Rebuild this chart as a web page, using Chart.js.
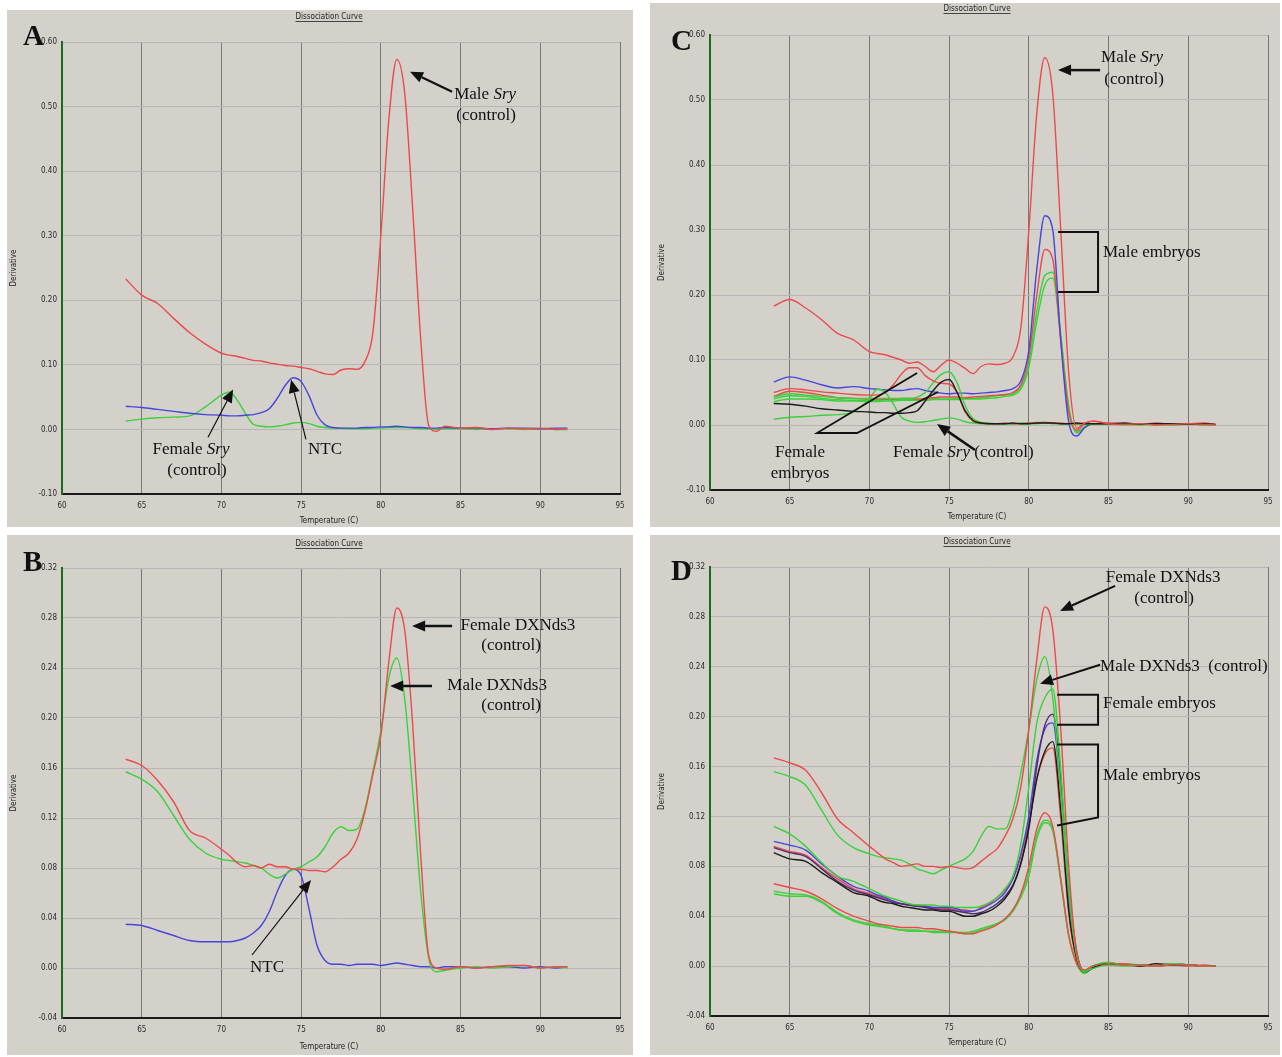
<!DOCTYPE html>
<html>
<head>
<meta charset="utf-8">
<script src="https://cdn.jsdelivr.net/npm/chart.js@4.4.1/dist/chart.umd.min.js"></script>
<style>
  body { margin: 0; background: #fff; width: 1282px; height: 1057px; position: relative; overflow: hidden; }
  .panel { position: absolute; background: #d4d1cb; }
  .panel canvas { position: absolute; left: 0; top: 0; }
</style>
</head>
<body>
<div class="panel" style="left:7px;top:10px;width:626px;height:517px"><canvas id="chartA" width="626" height="517"></canvas></div>
<div class="panel" style="left:650px;top:3px;width:630px;height:524px"><canvas id="chartC" width="630" height="524"></canvas></div>
<div class="panel" style="left:7px;top:535px;width:626px;height:520px"><canvas id="chartB" width="626" height="520"></canvas></div>
<div class="panel" style="left:650px;top:535px;width:630px;height:520px"><canvas id="chartD" width="630" height="520"></canvas></div>

<script>
// temperature (C) shared by every trace
const temps = [64, 65, 66, 67, 68, 69, 70,
  70.5, 71, 71.5, 72, 72.5, 73, 73.5, 74, 74.5, 75, 75.5, 76, 76.5, 77, 77.5, 78, 78.5, 79, 79.5, 80, 80.5, 81, 81.5, 82, 82.5, 83, 83.5, 84,
  85, 86, 87, 88, 89, 90, 91, 91.7];

const xTicks = [60, 65, 70, 75, 80, 85, 90, 95];
const yTicksSry = [-0.1, 0, 0.1, 0.2, 0.3, 0.4, 0.5, 0.6];
const yTicksDX = [-0.04, 0, 0.04, 0.08, 0.12, 0.16, 0.2, 0.24, 0.28, 0.32];

// A: Sry assay, controls
const aMaleSry = [.233, .208, .195, .172, .150, .132, .118,
  .115, .113, .110, .107, .106, .103, .101, .099, .098, .096, .094, .090, .086, .085, .092, .094, .093, .105, .150, .300, .480, .573, .520, .340, .140, .006, -.003, .005,
  .002, .003, .000, .002, .001, .002, .000, .001];
const aNTC = [.036, .034, .031, .028, .025, .023, .022,
  .021, .021, .022, .023, .026, .032, .048, .068, .080, .074, .052, .022, .007, .003, .002, .002, .002, .003, .003, .004, .004, .005, .004, .003, .003, .002, .002, .003,
  .002, .002, .001, .002, .002, .001, .002, .002];
const aFemaleSry = [.013, .016, .018, .019, .021, .035, .053,
  .058, .045, .025, .008, .005, .004, .005, .007, .010, .011, .009, .005, .003, .002, .002, .001, .001, .001, .002, .002, .003, .003, .003, .002, .001, .001, .000, .001,
  .001, .000, .001, .001, .000, .001, .000, .000];

// B: DXNds3 assay, controls
const bFemaleDX = [.167, .162, .150, .133, .110, .104, .095,
  .090, .084, .081, .082, .080, .083, .081, .081, .079, .079, .078, .078, .077, .081, .087, .092, .103, .125, .155, .186, .245, .288, .270, .194, .090, .010, .000, -.001,
  .001, .000, .001, .002, .002, .000, .001, .001];
const bMaleDX = [.157, .151, .141, .122, .103, .092, .087,
  .086, .085, .084, .082, .080, .075, .072, .075, .079, .081, .085, .089, .097, .108, .113, .110, .111, .127, .157, .190, .232, .248, .215, .141, .061, .008, -.003, -.002,
  .000, .001, .000, .001, .002, .000, .001, .000];
const bNTC = [.035, .034, .030, .026, .022, .021, .021,
  .021, .022, .024, .028, .034, .045, .061, .074, .079, .074, .047, .018, .006, .003, .003, .002, .003, .003, .003, .002, .003, .004, .003, .002, .001, .001, .000, .001,
  .001, .000, .001, .001, .000, .001, .000, .001];

// C: Sry assay, embryos
const cMaleSry = [.183, .193, .180, .162, .141, .131, .113,
  .110, .108, .104, .100, .095, .097, .090, .082, .092, .100, .095, .087, .079, .090, .094, .093, .095, .105, .150, .300, .480, .565, .510, .300, .080, -.005, .003, .006,
  .002, .001, .002, .000, .001, .002, .001, .000];
const cMaleBlue = [.066, .074, .069, .062, .057, .059, .056,
  .055, .054, .053, .053, .055, .056, .053, .051, .049, .048, .049, .049, .048, .049, .050, .051, .053, .056, .068, .115, .240, .322, .300, .130, .005, -.017, -.004, .002,
  .002, .001, .001, .002, .001, .001, .001, .001];
const cMaleRed = [.044, .052, .050, .046, .042, .041, .040,
  .040, .040, .040, .041, .041, .040, .041, .042, .043, .043, .043, .042, .043, .044, .045, .046, .047, .050, .062, .105, .200, .270, .255, .130, .020, -.008, .002, .006,
  .002, .001, .001, .002, .000, .002, .000, .001];
const cMaleGreen = [.040, .045, .044, .041, .039, .038, .038,
  .038, .039, .039, .039, .039, .039, .040, .040, .040, .040, .041, .041, .041, .042, .043, .045, .046, .048, .058, .095, .175, .230, .235, .140, .030, -.010, -.004, .002,
  .002, .001, .000, .002, .001, .001, .001, .001];
const cMaleGreen2 = [.036, .040, .040, .039, .037, .037, .036,
  .036, .037, .037, .038, .038, .038, .038, .039, .039, .039, .039, .040, .040, .040, .041, .042, .044, .046, .055, .088, .160, .215, .226, .135, .025, -.012, -.003, .001,
  .001, .002, .001, .000, .001, .002, .001, .000];
const cFemRed = [.050, .056, .054, .051, .049, .047, .046,
  .046, .050, .062, .078, .088, .088, .076, .068, .064, .063, .050, .020, .006, .003, .002, .002, .003, .002, .002, .003, .003, .004, .003, .003, .002, .002, .003, .002,
  .003, .002, .001, .003, .001, .002, .003, .001];
const cFemBlack = [.033, .032, .029, .025, .023, .021, .020,
  .019, .019, .018, .018, .019, .022, .037, .053, .066, .070, .050, .022, .007, .003, .002, .002, .002, .003, .002, .002, .003, .003, .003, .002, .002, .003, .002, .002,
  .002, .003, .001, .002, .002, .001, .002, .001];
const cFemGreen = [.043, .048, .046, .044, .042, .041, .041,
  .041, .041, .041, .041, .041, .043, .050, .065, .078, .082, .065, .030, .010, .004, .003, .002, .002, .002, .003, .003, .004, .004, .003, .002, .002, .001, .002, .002,
  .002, .001, .002, .001, .001, .002, .001, .001];
const cFemSry = [.009, .012, .013, .015, .016, .020, .040,
  .055, .050, .032, .012, .006, .004, .005, .007, .009, .011, .009, .005, .003, .002, .002, .001, .001, .002, .002, .002, .002, .003, .002, .002, .001, .001, .001, .001,
  .001, .000, .001, .001, .000, .001, .000, .000];

// D: DXNds3 assay, embryos
const dFemaleDX = [.167, .163, .157, .139, .118, .107, .096,
  .091, .086, .083, .080, .081, .082, .080, .080, .079, .080, .079, .078, .079, .084, .089, .094, .104, .118, .144, .190, .246, .288, .270, .190, .080, .010, -.003, .000,
  .002, .001, .001, .000, .001, .001, .000, .000];
const dMaleDX = [.156, .152, .145, .125, .105, .095, .090,
  .088, .087, .086, .085, .082, .078, .076, .074, .077, .080, .083, .086, .092, .104, .112, .110, .110, .125, .155, .190, .230, .248, .215, .140, .060, .008, -.004, -.002,
  .001, .000, .001, .000, .002, .001, .000, .000];
const dFemGreen = [.112, .106, .096, .083, .072, .068, .062,
  .059, .056, .054, .052, .050, .049, .049, .049, .048, .048, .047, .047, .047, .048, .051, .055, .062, .072, .098, .144, .195, .215, .222, .158, .064, .011, -.005, .000,
  .003, .001, .001, .000, .002, .001, .000, .000];
const dFemPurple = [.095, .091, .088, .078, .068, .061, .057,
  .055, .053, .051, .050, .049, .048, .047, .046, .045, .045, .044, .043, .042, .043, .046, .050, .056, .065, .083, .110, .160, .193, .202, .150, .065, .012, -.005, -.002,
  .002, .001, .001, .000, .002, .001, .000, .000];
const dMaleBlack = [.091, .086, .084, .075, .067, .059, .056,
  .053, .051, .050, .048, .047, .046, .045, .045, .044, .044, .042, .040, .040, .042, .044, .048, .054, .064, .082, .112, .150, .172, .180, .125, .045, .006, -.005, -.001,
  .002, .001, .000, .002, .001, .001, .000, .000];
const dMaleBlue = [.100, .097, .093, .082, .072, .064, .060,
  .057, .055, .052, .050, .049, .048, .048, .047, .047, .047, .046, .044, .044, .046, .049, .053, .059, .070, .090, .120, .165, .190, .195, .140, .055, .010, -.004, .000,
  .002, .001, .001, .000, .002, .001, .000, .000];
const dMaleRed = [.096, .092, .089, .079, .070, .062, .058,
  .056, .054, .052, .050, .049, .049, .048, .047, .046, .046, .045, .045, .044, .047, .050, .055, .061, .070, .088, .115, .150, .170, .175, .118, .042, .005, -.004, .000,
  .001, .002, .000, .001, .001, .000, .001, .000];
const dMaleRedLow = [.066, .063, .060, .054, .046, .040, .036,
  .034, .033, .032, .031, .031, .031, .030, .030, .029, .028, .027, .026, .026, .028, .030, .033, .038, .045, .058, .080, .110, .123, .112, .070, .025, .002, -.004, .000,
  .002, .001, .001, .000, .001, .001, .000, .000];
const dMaleGreenLow = [.060, .058, .057, .052, .043, .037, .034,
  .033, .032, .030, .029, .029, .029, .028, .028, .028, .028, .027, .027, .028, .030, .032, .034, .038, .045, .057, .075, .105, .117, .110, .070, .025, .002, -.005, .000,
  .003, .001, .001, .000, .002, .001, .000, .000];
const dMaleGreenLow2 = [.058, .056, .056, .051, .042, .036, .033,
  .032, .031, .030, .029, .028, .028, .028, .027, .027, .027, .027, .026, .027, .029, .031, .034, .037, .044, .055, .072, .102, .115, .108, .068, .024, .002, -.006, .000,
  .002, .002, .001, .000, .001, .001, .000, .000];

const RED = '#ec4a4a', BLUE = '#4646dc', GREEN = '#3ad23a', BLACK = '#1c1c1c', PURPLE = '#4e2a74';

// annotations, in data units (temperature, derivative)
const notesA = [
  { text: [['Male ', 0], ['Sry', 1]], at: [86.54, 0.519] },
  { text: [['(control)', 0]], at: [86.6, 0.486] },
  { arrow: [[84.47, 0.523], [81.83, 0.554]], w: 2.2 },
  { text: [['Female ', 0], ['Sry', 1]], at: [68.09, -0.031] },
  { text: [['(control)', 0]], at: [68.47, -0.0635] },
  { arrow: [[69.16, -0.012], [70.73, 0.062]], w: 1.2 },
  { text: [['NTC', 0]], at: [76.5, -0.031] },
  { arrow: [[75.3, -0.0155], [74.37, 0.077]], w: 1.2 }
];
const notesB = [
  { text: [['Female DXNds3', 0]], at: [88.6, 0.2736] },
  { text: [['(control)', 0]], at: [88.17, 0.2576] },
  { arrow: [[84.47, 0.2736], [81.96, 0.2736]], w: 2.5 },
  { text: [['Male DXNds3', 0]], at: [87.29, 0.2256] },
  { text: [['(control)', 0]], at: [88.17, 0.2096] },
  { arrow: [[83.21, 0.2256], [80.58, 0.2256]], w: 2.5 },
  { text: [['NTC', 0]], at: [72.86, 0.0] },
  { arrow: [[71.92, 0.0104], [75.62, 0.0704]], w: 1.2 }
];
const notesC = [
  { text: [['Male ', 0], ['Sry', 1]], at: [86.47, 0.5646] },
  { text: [['(control)', 0]], at: [86.6, 0.532] },
  { arrow: [[84.47, 0.546], [81.83, 0.546]], w: 2.5 },
  { path: [[81.83, 0.2969], [84.34, 0.2969], [84.34, 0.2046], [81.83, 0.2046]], w: 2 },
  { text: [['Male embryos', 0]], at: [84.65, 0.266], left: true },
  { text: [['Female', 0]], at: [65.65, -0.0431] },
  { text: [['embryos', 0]], at: [65.65, -0.0754] },
  { path: [[72.99, 0.08], [66.71, -0.0123], [69.22, -0.0123], [74.3, 0.0508]], w: 1.8 },
  { text: [['Female ', 0], ['Sry', 1], [' (control)', 0]], at: [71.48, -0.0431], left: true },
  { arrow: [[76.62, -0.0385], [74.24, 0.0015]], w: 2.5 }
];
const notesD = [
  { text: [['Female DXNds3', 0]], at: [88.42, 0.3112] },
  { text: [['(control)', 0]], at: [88.48, 0.2944] },
  { arrow: [[85.41, 0.3048], [81.96, 0.2848]], w: 2 },
  { text: [['Male DXNds3  (control)', 0]], at: [84.47, 0.24], left: true },
  { arrow: [[84.47, 0.2416], [80.7, 0.2264]], w: 2 },
  { path: [[81.77, 0.2176], [84.34, 0.2176], [84.34, 0.1936], [81.77, 0.1936]], w: 2 },
  { text: [['Female embryos', 0]], at: [84.65, 0.2104], left: true },
  { path: [[81.77, 0.1776], [84.34, 0.1776], [84.34, 0.1192], [81.77, 0.1128]], w: 2 },
  { text: [['Male embryos', 0]], at: [84.65, 0.1528], left: true }
];

const SMALL = '"Liberation Sans Narrow", "DejaVu Sans Condensed", "Liberation Sans", sans-serif';
const SERIF = '"Liberation Serif", "Times New Roman", serif';

function drawRuns(ctx, runs, x, y, left) {
  const fonts = runs.map(r => (r[1] ? 'italic ' : '') + '17px ' + SERIF);
  const widths = runs.map((r, i) => { ctx.font = fonts[i]; return ctx.measureText(r[0]).width; });
  let cx = left ? x : x - widths.reduce((a, b) => a + b, 0) / 2;
  runs.forEach((r, i) => { ctx.font = fonts[i]; ctx.fillText(r[0], cx, y); cx += widths[i]; });
}

function drawArrow(ctx, x1, y1, x2, y2, w) {
  const a = Math.atan2(y2 - y1, x2 - x1), L = 13, H = 5.5;
  const bx = x2 - L * Math.cos(a), by = y2 - L * Math.sin(a);
  ctx.lineWidth = w;
  ctx.beginPath(); ctx.moveTo(x1, y1); ctx.lineTo(bx, by); ctx.stroke();
  ctx.beginPath();
  ctx.moveTo(x2, y2);
  ctx.lineTo(bx + H * Math.sin(a), by - H * Math.cos(a));
  ctx.lineTo(bx - H * Math.sin(a), by + H * Math.cos(a));
  ctx.closePath(); ctx.fill();
}

const chrome = {
  id: 'chrome',
  afterDraw(chart, args, opt) {
    const { ctx, chartArea: ca, scales: { x, y } } = chart;
    const mid = (ca.left + ca.right) / 2 - 12;
    ctx.save();
    ctx.fillStyle = '#222';
    ctx.textAlign = 'center';
    ctx.textBaseline = 'middle';
    // title
    ctx.font = '8px ' + SMALL;
    ctx.fillText('Dissociation Curve', mid, opt.titleY);
    const tw = ctx.measureText('Dissociation Curve').width;
    ctx.fillRect(mid - tw / 2, opt.titleY + 4, tw, 0.8);
    // axis titles
    ctx.fillText('Temperature (C)', mid, ca.bottom + opt.xTitleDy);
    ctx.save();
    ctx.translate(opt.yTitleX, (ca.top + ca.bottom) / 2);
    ctx.rotate(-Math.PI / 2);
    ctx.fillText('Derivative', 0, 0);
    ctx.restore();
    // panel letter
    ctx.textAlign = 'left';
    ctx.textBaseline = 'alphabetic';
    ctx.fillStyle = '#111';
    ctx.font = 'bold 29px ' + SERIF;
    ctx.fillText(opt.letter, ca.left - 39, ca.top + opt.letterDy);
    // annotations
    ctx.strokeStyle = '#111';
    ctx.textBaseline = 'middle';
    for (const n of opt.notes) {
      if (n.text) {
        drawRuns(ctx, n.text, x.getPixelForValue(n.at[0]), y.getPixelForValue(n.at[1]), n.left);
      } else if (n.arrow) {
        const [p, q] = n.arrow;
        drawArrow(ctx, x.getPixelForValue(p[0]), y.getPixelForValue(p[1]), x.getPixelForValue(q[0]), y.getPixelForValue(q[1]), n.w);
      } else if (n.path) {
        ctx.lineWidth = n.w;
        ctx.beginPath();
        n.path.forEach((p, i) => {
          const px = x.getPixelForValue(p[0]), py = y.getPixelForValue(p[1]);
          if (i) ctx.lineTo(px, py); else ctx.moveTo(px, py);
        });
        ctx.stroke();
      }
    }
    ctx.restore();
  }
};

function makePanel(id, sets, yTicks, box, extra) {
  new Chart(document.getElementById(id), {
    type: 'line',
    data: {
      datasets: sets.map(([vals, color]) => ({
        data: vals.map((v, i) => ({ x: temps[i], y: v })),
        borderColor: color, borderWidth: 1.4, pointRadius: 0,
        cubicInterpolationMode: 'monotone', fill: false
      }))
    },
    options: {
      responsive: false, animation: false, devicePixelRatio: 1,
      layout: { padding: { left: 0, top: box.top, right: box.right, bottom: 0 } },
      plugins: { legend: { display: false }, tooltip: { enabled: false }, chrome: extra },
      scales: {
        x: {
          type: 'linear', min: 60, max: 95,
          afterBuildTicks: s => { s.ticks = xTicks.map(v => ({ value: v })); },
          afterFit: s => { s.height = box.bottom; },
          ticks: { padding: 7, color: '#2a2a2a', font: { family: SMALL, size: 8 }, maxRotation: 0 },
          grid: { color: '#777', lineWidth: 1, drawTicks: false },
          border: { color: '#1a1a1a', width: 2 }
        },
        y: {
          type: 'linear', min: yTicks[0], max: yTicks[yTicks.length - 1],
          afterBuildTicks: s => { s.ticks = yTicks.map(v => ({ value: v })); },
          afterFit: s => { s.width = box.left; },
          ticks: { padding: 5, color: '#2a2a2a', font: { family: SMALL, size: 8 }, callback: v => v.toFixed(2) },
          grid: { color: '#b6b6b6', lineWidth: 1, drawTicks: false },
          border: { color: '#1d6a1d', width: 2 }
        }
      }
    },
    plugins: [chrome]
  });
}

makePanel('chartA', [[aMaleSry, RED], [aNTC, BLUE], [aFemaleSry, GREEN]], yTicksSry,
  { left: 55, top: 32, right: 13, bottom: 33 },
  { letter: 'A', letterDy: 3, titleY: 7, xTitleDy: 27, yTitleX: 7, notes: notesA });

makePanel('chartC', [[cMaleSry, RED], [cFemBlack, BLACK], [cFemRed, RED], [cFemGreen, GREEN], [cFemSry, GREEN],
  [cMaleBlue, BLUE], [cMaleRed, RED], [cMaleGreen, GREEN], [cMaleGreen2, GREEN]], yTicksSry,
  { left: 60, top: 32, right: 12, bottom: 37 },
  { letter: 'C', letterDy: 15, titleY: 6, xTitleDy: 27, yTitleX: 12, notes: notesC });

makePanel('chartB', [[bFemaleDX, RED], [bMaleDX, GREEN], [bNTC, BLUE]], yTicksDX,
  { left: 55, top: 33, right: 13, bottom: 37 },
  { letter: 'B', letterDy: 3, titleY: 9, xTitleDy: 29, yTitleX: 7, notes: notesB });

makePanel('chartD', [[dFemaleDX, RED], [dMaleDX, GREEN], [dFemGreen, GREEN], [dMaleBlack, BLACK], [dFemPurple, PURPLE],
  [dMaleBlue, BLUE], [dMaleRed, RED], [dMaleRedLow, RED], [dMaleGreenLow, GREEN], [dMaleGreenLow2, GREEN]], yTicksDX,
  { left: 60, top: 32, right: 12, bottom: 39 },
  { letter: 'D', letterDy: 13, titleY: 7, xTitleDy: 27, yTitleX: 12, notes: notesD });
</script>
</body>
</html>
